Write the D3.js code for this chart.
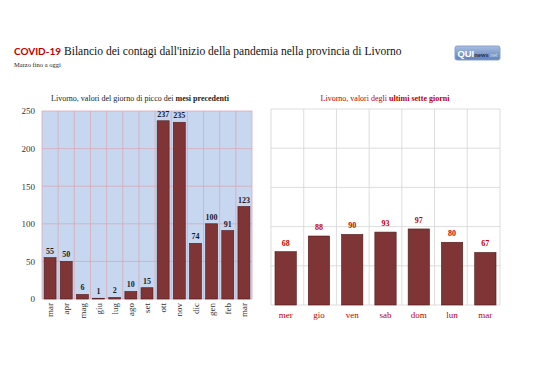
<!DOCTYPE html>
<html>
<head>
<meta charset="utf-8">
<script src="https://cdn.jsdelivr.net/npm/d3@7"></script>
<style>
  body { margin: 0; background: #fff; }
  svg { display: block; }
</style>
</head>
<body>
<svg id="chart"></svg>
<script>
// data
const months = ["mar", "apr", "mag", "giu", "lug", "ago", "set", "ott", "nov", "dic", "gen", "feb", "mar "];
const peakValues = [55, 50, 6, 1, 2, 10, 15, 237, 235, 74, 100, 91, 123];
const days = ["mer", "gio", "ven", "sab", "dom", "lun", "mar"];
const weekValues = [68, 88, 90, 93, 97, 80, 67];
const yTicks = [0, 50, 100, 150, 200, 250];

const W = 538, H = 380;
const serif = "'Liberation Serif', 'DejaVu Serif', serif";
const barFill = "#7f3535", barStroke = "#4f1a1a", red = "#c00000";

const svg = d3.select("#chart").attr("width", W).attr("height", H);

// shrink font size so a text fits a given width (original font is narrower)
function fitWidth(sel, width) {
    const w = sel.node().getComputedTextLength();
    if (w > width) {
        const fs = +sel.attr("font-size");
        sel.attr("font-size", fs * width / w);
    }
    return sel;
}

// Title
const covid = svg.append("text").attr("x", 14).attr("y", 55)
    .attr("font-family", "Lato, 'Open Sans', sans-serif")
    .attr("font-weight", "bold").attr("font-size", 14)
    .attr("fill", red).text("COVID-19");
fitWidth(covid, 47);
const titleRest = svg.append("text").attr("x", 64).attr("y", 55)
    .attr("font-family", serif).attr("font-size", 14).attr("fill", "#111")
    .text("Bilancio dei contagi dall'inizio della pandemia nella provincia di Livorno");
fitWidth(titleRest, 338);

svg.append("text").attr("x", 14).attr("y", 67)
    .attr("font-family", serif).attr("font-size", 6.5).attr("fill", "#222")
    .text("Marzo fino a oggi");

// Logo
const logo = svg.append("g").attr("transform", "translate(455,46)");
const grad = svg.append("defs").append("linearGradient")
    .attr("id", "lg").attr("x1", 0).attr("y1", 0).attr("x2", 0).attr("y2", 1);
grad.append("stop").attr("offset", "0%").attr("stop-color", "#a9bfe0");
grad.append("stop").attr("offset", "100%").attr("stop-color", "#5f80b8");
logo.append("rect").attr("width", 45).attr("height", 14).attr("rx", 2)
    .attr("fill", "url(#lg)").attr("stroke", "#8aa2cc");
const lt = logo.append("text").attr("x", 2.5).attr("y", 11)
    .attr("font-family", "'Liberation Sans', sans-serif").attr("font-size", 10);
lt.append("tspan").attr("font-weight", "bold").attr("fill", "#fff").text("QUI");
lt.append("tspan").attr("font-size", "0.62em").attr("font-weight", "bold").attr("fill", "#1f2f55").text("news");
lt.append("tspan").attr("font-size", "0.55em").attr("fill", "#d4def0").text(".net");
fitWidth(lt, 40);

// ---------- Left chart ----------
const L = { x0: 42, x1: 252, y0: 299, y1: 111 };
const xL = d3.scaleBand().domain(months).range([L.x0, L.x1]).paddingInner(0.26).paddingOuter(0.13);
const yL = d3.scaleLinear().domain([0, 250]).range([L.y0, L.y1]);

const sub1 = svg.append("text").attr("x", 140).attr("y", 101).attr("text-anchor", "middle")
    .attr("font-family", serif).attr("font-size", 8).attr("fill", "#222");
sub1.append("tspan").text("Livorno, valori del giorno di picco dei ");
sub1.append("tspan").attr("font-weight", "bold").text("mesi precedenti");

const left = svg.append("g");
left.append("rect").attr("x", L.x0).attr("y", L.y1)
    .attr("width", L.x1 - L.x0).attr("height", L.y0 - L.y1).attr("fill", "#c8d7f0");

// vertical grid at band boundaries
left.selectAll(".vg").data(d3.range(months.length + 1)).join("line")
    .attr("x1", i => L.x0 + i * (L.x1 - L.x0) / months.length)
    .attr("x2", i => L.x0 + i * (L.x1 - L.x0) / months.length)
    .attr("y1", L.y1).attr("y2", L.y0)
    .attr("stroke", "#d8aab8").attr("stroke-width", 0.8);
left.selectAll(".hg").data(yTicks).join("line")
    .attr("x1", L.x0).attr("x2", L.x1)
    .attr("y1", d => yL(d)).attr("y2", d => yL(d))
    .attr("stroke", "#d8aab8").attr("stroke-width", 0.8);

// y axis labels
const yAxisL = left.append("g").attr("transform", `translate(${L.x0},0)`)
    .call(d3.axisLeft(yL).tickValues(yTicks).tickSize(0).tickPadding(7));
yAxisL.select(".domain").remove();
yAxisL.selectAll("text").attr("font-family", serif).attr("font-size", 9).attr("fill", "#333");

left.selectAll(".bar").data(peakValues).join("rect")
    .attr("x", (d, i) => xL(months[i]))
    .attr("y", d => yL(d))
    .attr("width", xL.bandwidth())
    .attr("height", d => L.y0 - yL(d))
    .attr("fill", barFill).attr("stroke", barStroke).attr("stroke-width", 0.6);

left.selectAll(".val").data(peakValues).join("text")
    .attr("x", (d, i) => xL(months[i]) + xL.bandwidth() / 2)
    .attr("y", d => yL(d) - 4)
    .attr("text-anchor", "middle")
    .attr("font-family", serif).attr("font-weight", "bold").attr("font-size", 8)
    .attr("fill", "#1b1b2b").text(d => d);

const xAxisL = left.append("g").attr("transform", `translate(0,${L.y0})`)
    .call(d3.axisBottom(xL).tickSize(0).tickFormat(d => d.trim()));
xAxisL.select(".domain").remove();
xAxisL.selectAll("text")
    .attr("font-family", serif).attr("font-size", 9).attr("fill", "#333")
    .attr("transform", "rotate(-90)")
    .attr("text-anchor", "end")
    .attr("x", -4).attr("y", 0).attr("dy", "0.35em");

// ---------- Right chart ----------
const R = { x0: 271, x1: 500, y0: 305, y1: 109 };
const xR = d3.scaleBand().domain(days).range([R.x0, R.x1]).paddingInner(0.36).paddingOuter(0.12);
const yR = d3.scaleLinear().domain([0, 250]).range([R.y0, R.y1]);

const sub2 = svg.append("text").attr("x", 385).attr("y", 101).attr("text-anchor", "middle")
    .attr("font-family", serif).attr("font-size", 8).attr("fill", red);
sub2.append("tspan").text("Livorno, valori degli ");
sub2.append("tspan").attr("font-weight", "bold").text("ultimi sette giorni");

const right = svg.append("g");
right.selectAll(".vg").data(d3.range(days.length + 1)).join("line")
    .attr("x1", i => R.x0 + i * (R.x1 - R.x0) / days.length)
    .attr("x2", i => R.x0 + i * (R.x1 - R.x0) / days.length)
    .attr("y1", R.y1).attr("y2", R.y0)
    .attr("stroke", "#d4d4d4").attr("stroke-width", 0.8);
right.selectAll(".hg").data(yTicks).join("line")
    .attr("x1", R.x0).attr("x2", R.x1)
    .attr("y1", d => yR(d)).attr("y2", d => yR(d))
    .attr("stroke", "#d4d4d4").attr("stroke-width", 0.8);

right.selectAll(".bar").data(weekValues).join("rect")
    .attr("x", (d, i) => xR(days[i]))
    .attr("y", d => yR(d))
    .attr("width", xR.bandwidth())
    .attr("height", d => R.y0 - yR(d))
    .attr("fill", barFill).attr("stroke", barStroke).attr("stroke-width", 0.6);

right.selectAll(".val").data(weekValues).join("text")
    .attr("x", (d, i) => xR(days[i]) + xR.bandwidth() / 2)
    .attr("y", d => yR(d) - 6)
    .attr("text-anchor", "middle")
    .attr("font-family", serif).attr("font-weight", "bold").attr("font-size", 8)
    .attr("fill", red).text(d => d);

const xAxisR = right.append("g").attr("transform", `translate(0,${R.y0})`)
    .call(d3.axisBottom(xR).tickSize(0).tickPadding(7));
xAxisR.select(".domain").remove();
xAxisR.selectAll("text")
    .attr("font-family", serif).attr("font-size", 9).attr("fill", red);
</script>
</body>
</html>
